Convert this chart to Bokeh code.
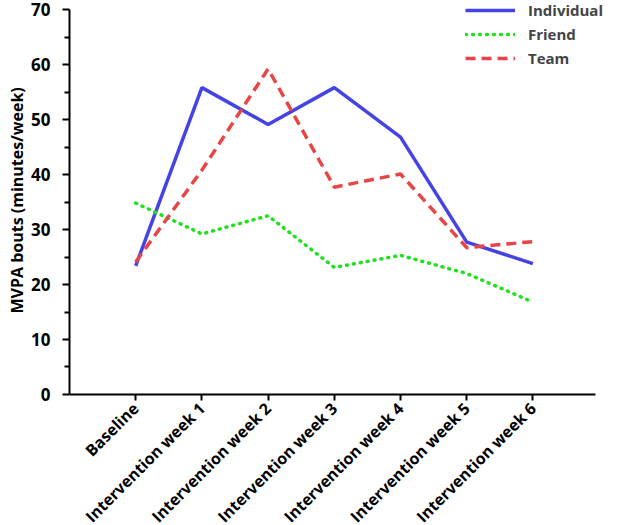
import numpy as np
from bokeh.plotting import figure
from bokeh.models import Range1d, FixedTicker, Legend, LegendItem, Title
from bokeh.embed import file_html
from bokeh.resources import INLINE
from math import pi

categories = ["Baseline", "Intervention week 1", "Intervention week 2", "Intervention week 3",
              "Intervention week 4", "Intervention week 5", "Intervention week 6"]
individual = [23.4, 55.8, 49.1, 55.8, 46.8, 27.7, 23.8]
friend = [34.8, 29.2, 32.5, 23.1, 25.3, 22.0, 16.8]
team = [24.1, 40.8, 59.2, 37.7, 40.1, 26.7, 27.8]
y_ticks = [0, 10, 20, 30, 40, 50, 60, 70]
y_minor = [5, 15, 25, 35, 45, 55, 65]
y_label = "MVPA bouts (minutes/week)"

FONT = "Open Sans"
x = list(range(1, len(categories) + 1))

p = figure(width=622, height=525, output_backend="svg", toolbar_location=None,
           x_range=Range1d(0, 8.353), y_range=Range1d(-23.82, 71.64),
           min_border_left=69, min_border_right=0, min_border_top=0, min_border_bottom=0)
p.outline_line_color = None
p.grid.visible = False
p.background_fill_color = "white"

r1 = p.line(x, individual, line_color="#4343E6", line_width=3.5)
r2 = p.line(x, friend, line_color="#22E022", line_width=3.5, line_dash="1 6", line_cap="round")
r3 = p.line(x, team, line_color="#E84646", line_width=3.5, line_dash="10 6")

# x axis drawn at y = 0 inside the frame
xa = p.xaxis[0]
xa.fixed_location = 0
xa.ticker = FixedTicker(ticks=x)
xa.bounds = (0, 7.95)
xa.major_label_overrides = {i: c for i, c in zip(x, categories)}
xa.major_label_orientation = pi / 4
xa.major_label_text_font = FONT
xa.major_label_text_font_style = "bold"
xa.major_label_text_font_size = "16px"
xa.major_label_text_color = "black"
xa.major_label_standoff = 5
xa.major_tick_out = 6
xa.major_tick_in = 0
xa.minor_tick_out = 0
xa.minor_tick_in = 0
xa.axis_line_width = 2
xa.major_tick_line_width = 2
xa.axis_line_color = "black"
xa.major_tick_line_color = "black"

# y axis
ya = p.yaxis[0]
ya.ticker = FixedTicker(ticks=y_ticks, minor_ticks=y_minor)
ya.bounds = (0, 70)
ya.major_label_text_font = FONT
ya.major_label_text_font_style = "bold"
ya.major_label_text_font_size = "17px"
ya.major_label_text_color = "black"
ya.major_label_standoff = 12
ya.major_tick_out = 7
ya.major_tick_in = 0
ya.minor_tick_out = 5
ya.minor_tick_in = 0
ya.axis_line_width = 2
ya.major_tick_line_width = 2
ya.minor_tick_line_width = 2
ya.axis_line_color = "black"
ya.major_tick_line_color = "black"
ya.minor_tick_line_color = "black"

# y axis title (a side title so that it can be centred on the 0-70 span)
p.add_layout(Title(text=y_label, align="left", offset=212, standoff=2,
                   text_font=FONT, text_font_style="bold", text_font_size="16px",
                   text_color="black"), "left")

legend = Legend(items=[LegendItem(label="Individual", renderers=[r1]),
                       LegendItem(label="Friend", renderers=[r2]),
                       LegendItem(label="Team", renderers=[r3])],
                location=(396, 457), border_line_color=None, background_fill_alpha=0,
                padding=0, margin=0, spacing=4, glyph_width=50, glyph_height=20,
                label_height=20, label_standoff=13,
                label_text_font=FONT, label_text_font_style="bold", label_text_font_size="15px")
p.add_layout(legend, "center")

open("out.html", "w").write(file_html(p, INLINE))
